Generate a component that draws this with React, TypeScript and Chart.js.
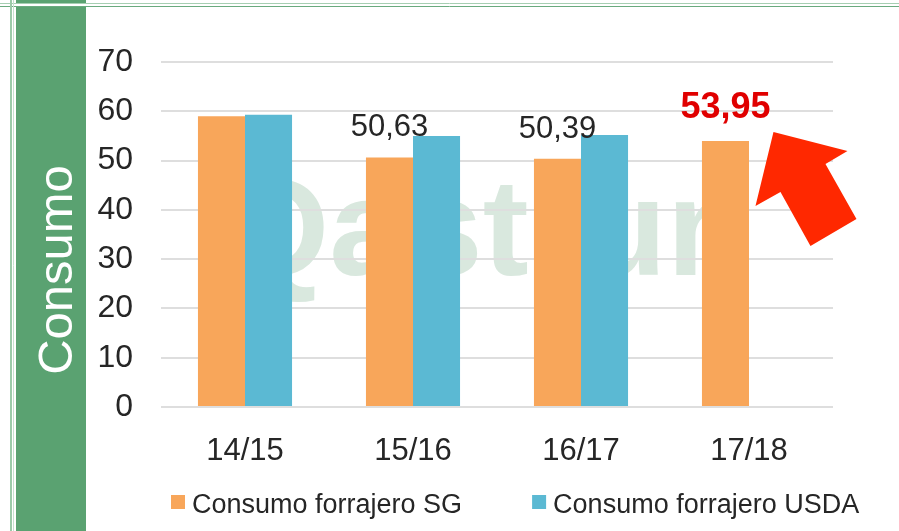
import React, { useEffect, useRef } from "react";
import { Chart, registerables } from "chart.js";

Chart.register(...registerables);

const categories = ["14/15", "15/16", "16/17", "17/18"];
const sgValues: (number | null)[] = [59.0, 50.63, 50.39, 53.95];
const usdaValues: (number | null)[] = [59.3, 55.0, 55.2, null];
const seriesNames = ["Consumo forrajero SG", "Consumo forrajero USDA"];
const seriesColors = ["#F8A65A", "#5BB9D3"];
const labeledIdx = [1, 2, 3];
const highlightIdx = 3;
const yTitle = "Consumo";
const watermark = "Qastrun";

const FONT = "'Liberation Sans', Arial, sans-serif";

const fmt = (v: number) => v.toFixed(2).replace(".", ",");

const decorPlugin = {
  id: "decor",
  beforeDraw(chart: any) {
    const ctx = chart.ctx;
    ctx.save();
    ctx.fillStyle = "#ffffff";
    ctx.fillRect(0, 0, chart.width, chart.height);
    ctx.fillStyle = "#5AA271";
    ctx.fillRect(16, 0, 70, 3);
    ctx.fillRect(16, 7, 70, chart.height - 7);
    ctx.strokeStyle = "#A6CFB2";
    ctx.lineWidth = 1;
    ctx.beginPath();
    ctx.moveTo(0, 3.5);
    ctx.lineTo(chart.width, 3.5);
    ctx.stroke();
    ctx.strokeStyle = "#6AAA7E";
    ctx.beginPath();
    ctx.moveTo(0, 6.5);
    ctx.lineTo(chart.width, 6.5);
    ctx.stroke();
    ctx.strokeStyle = "#9CCBA9";
    ctx.lineWidth = 2;
    ctx.beginPath();
    ctx.moveTo(11, 0);
    ctx.lineTo(11, chart.height);
    ctx.stroke();
    ctx.strokeStyle = "#C6E2CE";
    ctx.lineWidth = 1;
    ctx.beginPath();
    ctx.moveTo(13.5, 0);
    ctx.lineTo(13.5, chart.height);
    ctx.stroke();
    // vertical title
    ctx.translate(72, 270);
    ctx.rotate(-Math.PI / 2);
    ctx.fillStyle = "#ffffff";
    ctx.font = `49px ${FONT}`;
    ctx.textAlign = "center";
    ctx.textBaseline = "alphabetic";
    ctx.fillText(yTitle, 0, 0);
    ctx.restore();
    // watermark
    ctx.save();
    ctx.fillStyle = "#D9E8DE";
    ctx.font = `bold 138px ${FONT}`;
    ctx.textAlign = "left";
    ctx.textBaseline = "alphabetic";
    ctx.fillText(watermark, 222, 275);
    ctx.restore();
  },
  afterDatasetsDraw(chart: any) {
    const ctx = chart.ctx;
    const meta = chart.getDatasetMeta(0);
    ctx.save();
    ctx.textAlign = "center";
    ctx.textBaseline = "alphabetic";
    labeledIdx.forEach((i) => {
      const el = meta.data[i];
      const v = chart.data.datasets[0].data[i];
      if (!el || v == null) return;
      if (i === highlightIdx) {
        ctx.fillStyle = "#E00000";
        ctx.font = `bold 36px ${FONT}`;
        ctx.fillText(fmt(v), el.x, el.y - 23);
      } else {
        ctx.fillStyle = "#262626";
        ctx.font = `31px ${FONT}`;
        ctx.fillText(fmt(v), el.x, el.y - 21);
      }
    });
    // arrow pointing at highlighted bar
    const hl = meta.data[highlightIdx];
    if (hl) {
      const tx = hl.x + 30;
      const ty = hl.y + 65;
      const pts = [
        [0, 0],
        [18, -74],
        [92, -55],
        [70, -42],
        [101, 13],
        [55, 40],
        [25, -14],
      ];
      ctx.fillStyle = "#FF2800";
      ctx.beginPath();
      pts.forEach(([dx, dy], k) => {
        if (k === 0) ctx.moveTo(tx + dx, ty + dy);
        else ctx.lineTo(tx + dx, ty + dy);
      });
      ctx.closePath();
      ctx.fill();
    }
    ctx.restore();
  },
  afterDraw(chart: any) {
    const ctx = chart.ctx;
    ctx.save();
    ctx.font = `27px ${FONT}`;
    ctx.textBaseline = "alphabetic";
    ctx.textAlign = "left";
    let x = 171;
    chart.data.datasets.forEach((ds: any) => {
      ctx.fillStyle = ds.backgroundColor;
      ctx.fillRect(x, 495, 14, 14);
      ctx.fillStyle = "#262626";
      ctx.fillText(ds.label, x + 21, 513);
      x += 21 + ctx.measureText(ds.label).width + 70;
    });
    ctx.restore();
  },
};

export default function App() {
  const ref = useRef<HTMLCanvasElement | null>(null);
  useEffect(() => {
    if (!ref.current) return;
    const chart = new Chart(ref.current, {
      type: "bar",
      data: {
        labels: categories,
        datasets: [
          {
            label: seriesNames[0],
            data: sgValues,
            backgroundColor: seriesColors[0],
            borderWidth: 0,
            categoryPercentage: 0.56,
            barPercentage: 1,
          },
          {
            label: seriesNames[1],
            data: usdaValues,
            backgroundColor: seriesColors[1],
            borderWidth: 0,
            categoryPercentage: 0.56,
            barPercentage: 1,
          },
        ],
      },
      options: {
        responsive: false,
        animation: false,
        layout: { padding: { left: 86, top: 62, right: 66, bottom: 44 } },
        plugins: {
          legend: { display: false },
          tooltip: { enabled: false },
          title: { display: false },
        },
        scales: {
          x: {
            grid: { display: false },
            border: { display: false },
            ticks: {
              color: "#262626",
              font: { family: FONT, size: 31 },
              padding: 18,
            },
            afterFit: (s: any) => {
              s.height = 80;
            },
          },
          y: {
            min: 0,
            max: 70,
            grid: { color: "#DEDEDE", lineWidth: 2, drawTicks: false },
            border: { display: false },
            ticks: {
              stepSize: 10,
              color: "#262626",
              font: { family: FONT, size: 32 },
              padding: 28,
            },
            afterFit: (s: any) => {
              s.width = 75;
            },
          },
        },
      },
      plugins: [decorPlugin],
    });
    return () => chart.destroy();
  }, []);
  return (
    <div style={{ position: "fixed", left: 0, top: 0, width: 899, height: 531 }}>
      <canvas ref={ref} width={899} height={531} />
    </div>
  );
}
